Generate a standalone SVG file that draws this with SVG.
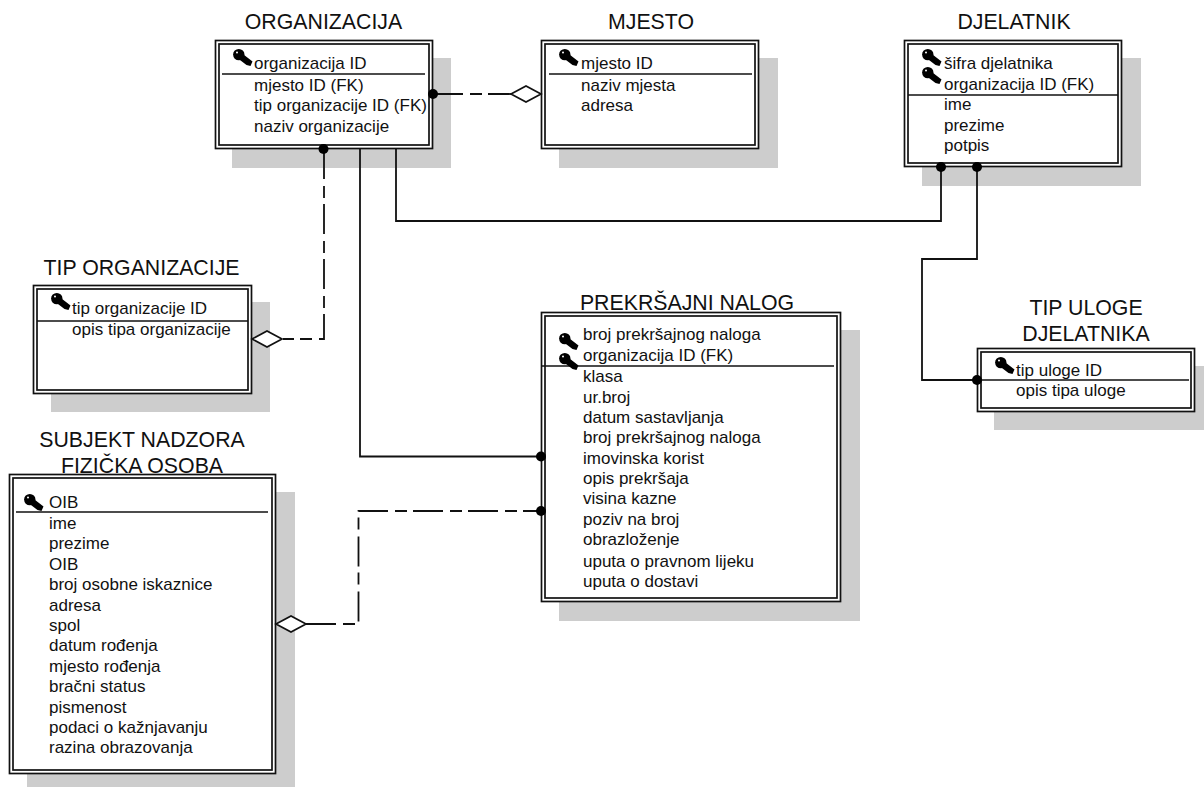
<svg xmlns="http://www.w3.org/2000/svg" width="1204" height="787" viewBox="0 0 1204 787">
<style>
text{font-family:"Liberation Sans",Arial,sans-serif;fill:#111}
.t{font-size:21.3px;text-anchor:middle}
.a{font-size:17px}
.s{fill:#cdcdcd;stroke:none}
.o{fill:#fff;stroke:#111;stroke-width:1.7}
.i{fill:none;stroke:#111;stroke-width:1.7}
.d{stroke:#111;stroke-width:1.7;fill:none}
.c{fill:none;stroke:#111;stroke-width:1.8}
.x{stroke-dasharray:30 7 12 6}
.j{fill:#000;stroke:none}
.m{fill:#fff;stroke:#111;stroke-width:1.7}
</style>
<defs>
<g id="key"><circle cx="5.800" cy="5.600" r="5.700" fill="#000"/><path d="M6 2L19.500 12.500L17.500 17L13.500 16L3 8Z" fill="#000"/><circle cx="4" cy="3.600" r="1" fill="#fff"/></g>
</defs>
<g id="org"><rect class="s" x="232" y="58" width="219" height="110"/><rect class="o" x="215.500" y="40.500" width="217" height="108"/><rect class="i" x="219" y="44" width="210" height="101"/><path class="d" d="M222 74H425"/><use href="#key" x="233" y="49"/>
<text class="t" x="323.500" y="29">ORGANIZACIJA</text>
<text class="a" x="254" y="69">organizacija ID</text><text class="a" x="254" y="91">mjesto ID (FK)</text><text class="a" x="254" y="111">tip organizacije ID (FK)</text><text class="a" x="254" y="131.500">naziv organizacije</text></g>
<g id="mjesto"><rect class="s" x="559" y="58" width="219" height="110"/><rect class="o" x="541.500" y="40.500" width="217" height="108"/><rect class="i" x="545" y="44" width="210" height="101"/><path class="d" d="M549 74H752"/><use href="#key" x="559" y="49"/>
<text class="t" x="651" y="29">MJESTO</text>
<text class="a" x="581" y="69">mjesto ID</text><text class="a" x="581" y="91">naziv mjesta</text><text class="a" x="581" y="111">adresa</text></g>
<g id="djelatnik"><rect class="s" x="922" y="58" width="219" height="128"/><rect class="o" x="904.500" y="40.500" width="217" height="126"/><rect class="i" x="908" y="44" width="210" height="119"/><path class="d" d="M908 95H1118"/><use href="#key" x="922" y="49"/><use href="#key" x="922" y="67"/>
<text class="t" x="1014" y="29">DJELATNIK</text>
<text class="a" x="944" y="68.500">šifra djelatnika</text><text class="a" x="944" y="89.500">organizacija ID (FK)</text><text class="a" x="944" y="110">ime</text><text class="a" x="944" y="131">prezime</text><text class="a" x="944" y="151">potpis</text></g>
<g id="tipOrganizacije"><rect class="s" x="51" y="302" width="219" height="110"/><rect class="o" x="33.500" y="285.500" width="218" height="108"/><rect class="i" x="37" y="289" width="211" height="101"/><path class="d" d="M37 321H248"/><use href="#key" x="51" y="293"/>
<text class="t" x="141.500" y="275">TIP ORGANIZACIJE</text>
<text class="a" x="72" y="314">tip organizacije ID</text><text class="a" x="72" y="335">opis tipa organizacije</text></g>
<g id="prekrsajniNalog"><rect class="s" x="559" y="330" width="301" height="291"/><rect class="o" x="541.500" y="312.500" width="299" height="289"/><rect class="i" x="545" y="316" width="292" height="282"/><path class="d" d="M541 366H834"/><use href="#key" x="559" y="333"/><use href="#key" x="559" y="353"/>
<text class="t" x="687" y="310">PREKRŠAJNI NALOG</text>
<text class="a" x="583" y="340">broj prekršajnog naloga</text><text class="a" x="583" y="361">organizacija ID (FK)</text><text class="a" x="583" y="382">klasa</text><text class="a" x="583" y="402.500">ur.broj</text><text class="a" x="583" y="422.500">datum sastavljanja</text><text class="a" x="583" y="443">broj prekršajnog naloga</text><text class="a" x="583" y="463.500">imovinska korist</text><text class="a" x="583" y="484">opis prekršaja</text><text class="a" x="583" y="504">visina kazne</text><text class="a" x="583" y="525">poziv na broj</text><text class="a" x="583" y="545">obrazloženje</text><text class="a" x="583" y="566.500">uputa o pravnom lijeku</text><text class="a" x="583" y="586.500">uputa o dostavi</text></g>
<g id="tipUlogeDjelatnika"><rect class="s" x="994" y="366" width="220" height="64"/><rect class="o" x="977.500" y="348.500" width="217" height="63"/><rect class="i" x="981" y="352" width="210" height="56"/><path class="d" d="M981 380H1189"/><use href="#key" x="995" y="357"/>
<text class="t" x="1086" y="315">TIP ULOGE</text><text class="t" x="1086" y="341">DJELATNIKA</text>
<text class="a" x="1016" y="376">tip uloge ID</text><text class="a" x="1016" y="396">opis tipa uloge</text></g>
<g id="subjektNadzora"><rect class="s" x="27" y="492" width="268" height="295"/><rect class="o" x="9.500" y="474.500" width="266" height="299"/><rect class="i" x="13" y="478" width="259" height="292"/><path class="d" d="M16 512H268"/><use href="#key" x="24" y="494"/>
<text class="t" x="142" y="447">SUBJEKT NADZORA</text><text class="t" x="142" y="473">FIZIČKA OSOBA</text>
<text class="a" x="49" y="508">OIB</text><text class="a" x="49" y="529">ime</text><text class="a" x="49" y="549">prezime</text><text class="a" x="49" y="570">OIB</text><text class="a" x="49" y="590">broj osobne iskaznice</text><text class="a" x="49" y="611">adresa</text><text class="a" x="49" y="631">spol</text><text class="a" x="49" y="651">datum rođenja</text><text class="a" x="49" y="672">mjesto rođenja</text><text class="a" x="49" y="692">bračni status</text><text class="a" x="49" y="713">pismenost</text><text class="a" x="49" y="733">podaci o kažnjavanju</text><text class="a" x="49" y="753">razina obrazovanja</text></g>
<g id="connectors">
<path class="c x" d="M433 94H511"/>
<path class="m" d="M511 94L526 86L541 94L526 102Z"/>
<circle class="j" cx="433" cy="94" r="5"/>
<path class="c x" d="M324 149V339H283"/>
<path class="m" d="M252 339L267 331L282 339L267 347Z"/>
<circle class="j" cx="323.500" cy="149" r="5"/>
<path class="c" d="M360 149V456.500H541"/>
<circle class="j" cx="541" cy="456.500" r="5"/>
<path class="c" d="M396 149V221H941V167"/>
<circle class="j" cx="941" cy="167" r="5"/>
<path class="c" d="M977 167V259H922V380H977"/>
<circle class="j" cx="977" cy="167" r="5"/>
<circle class="j" cx="977" cy="380" r="5"/>
<path class="c x" d="M306 624H358.500V511H541"/>
<path class="m" d="M276 624L291 616L306 624L291 632Z"/>
<circle class="j" cx="541" cy="511" r="5"/>
</g>
</svg>
